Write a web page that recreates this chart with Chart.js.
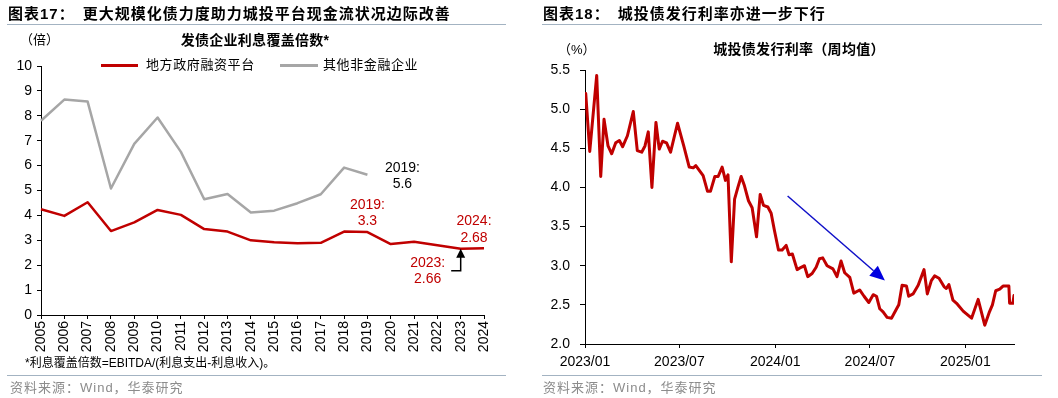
<!DOCTYPE html>
<html>
<head>
<meta charset="utf-8">
<script src="https://cdn.jsdelivr.net/npm/chart.js@4.4.1/dist/chart.umd.min.js"></script>
<style>
  html, body { margin: 0; padding: 0; background: #fff; }
  body {
    width: 1058px; height: 398px; position: relative; overflow: hidden;
    font-family: "Liberation Sans", Arial, "Noto Sans CJK SC", sans-serif; color: #000;
  }
  canvas { position: absolute; top: 0; }
  .abs { position: absolute; white-space: nowrap; }
  .title { font-size: 15px; font-weight: bold; letter-spacing: 1px; line-height: 18px; }
  .title span { margin-left: 8px; }
  .rule { position: absolute; height: 1px; background: #a3b3c2; }
  .unit { font-size: 13px; line-height: 16px; }
  .ctitle { font-size: 14px; font-weight: bold; line-height: 16px; transform: translateX(-50%); letter-spacing: 0.3px; }
  .legend { font-size: 13px; line-height: 16px; letter-spacing: 0.6px; }
  .swatch { position: absolute; height: 3px; }
  .note { font-size: 12px; line-height: 14px; }
  .src { font-size: 13px; line-height: 16px; color: #8c8c8c; letter-spacing: 1px; }
</style>
</head>
<body>
<canvas id="coverChart" width="530" height="398" style="left:0"></canvas>
<canvas id="rateChart" width="528" height="398" style="left:530px"></canvas>

<!-- 左图 -->
<div class="abs title" style="left:8px;top:5px">图表17：<span>更大规模化债力度助力城投平台现金流状况边际改善</span></div>
<div class="rule" style="left:7px;top:24px;width:499px"></div>
<div class="abs unit" style="left:20px;top:32px">（倍）</div>
<div class="abs ctitle" style="left:255px;top:32px">发债企业利息覆盖倍数*</div>
<div class="swatch" style="left:101px;top:64px;width:37px;background:#c00000"></div>
<div class="abs legend" style="left:146px;top:57px">地方政府融资平台</div>
<div class="swatch" style="left:280px;top:64px;width:38px;background:#a6a6a6"></div>
<div class="abs legend" style="left:323px;top:57px">其他非金融企业</div>
<div class="abs note" style="left:25px;top:356px">*利息覆盖倍数=EBITDA/(利息支出-利息收入)。</div>
<div class="rule" style="left:7px;top:375px;width:499px"></div>
<div class="abs src" style="left:10px;top:380px">资料来源：Wind，华泰研究</div>

<!-- 右图 -->
<div class="abs title" style="left:543px;top:5px">图表18：<span>城投债发行利率亦进一步下行</span></div>
<div class="rule" style="left:542px;top:24px;width:500px"></div>
<div class="abs unit" style="left:558px;top:42px">（%）</div>
<div class="abs ctitle" style="left:799px;top:41px">城投债发行利率（周均值）</div>
<div class="rule" style="left:542px;top:375px;width:500px"></div>
<div class="abs src" style="left:543px;top:380px">资料来源：Wind，华泰研究</div>

<script>
// 左图：发债企业利息覆盖倍数（倍）
const years = ['2005', '2006', '2007', '2008', '2009', '2010', '2011', '2012', '2013', '2014',
               '2015', '2016', '2017', '2018', '2019', '2020', '2021', '2022', '2023', '2024'];
const lgfvCover = [4.25, 3.98, 4.53, 3.37, 3.72, 4.22, 4.02, 3.45, 3.35, 3.0,
                   2.92, 2.88, 2.9, 3.35, 3.33, 2.85, 2.94, 2.8, 2.66, 2.68];
const otherCover = [7.8, 8.65, 8.57, 5.08, 6.87, 7.93, 6.55, 4.65, 4.86, 4.12,
                    4.19, 4.49, 4.85, 5.92, 5.63, null, null, null, null, null];

// 右图：城投债发行利率（周均值，%），横轴为自2023/01起的周数
const rateWeek = [0.2, 1.3, 3.2, 4.3, 5.2, 6.3, 7.3, 8.4, 9.4, 10.3, 11.6, 13.2, 14.3, 15.5, 16.4,
  17.3, 18.3, 19.4, 20.3, 21.2, 22.3, 23.4, 25.3, 27.0, 28.5, 29.6, 30.3, 32.3, 33.5, 34.3,
  35.5, 36.4, 37.5, 38.4, 39.1, 40.0, 40.9, 41.8, 42.7, 43.6, 44.7, 45.7, 46.9, 47.9, 48.8,
  50.0, 50.9, 51.8, 52.9, 53.9, 55.0, 55.8, 56.7, 58.0, 59.1, 60.0, 60.9, 62.1, 63.2, 64.1,
  65.0, 66.2, 67.8, 68.9, 70.0, 71.0, 72.4, 73.5, 75.1, 76.3, 77.6, 78.8, 79.7, 80.6, 81.5,
  82.6, 83.8, 85.2, 85.8, 86.7, 87.9, 88.5, 89.7, 91.1, 92.7, 93.6, 94.7, 95.6, 96.8, 98.2,
  98.8, 99.5, 100.6, 101.6, 103.4, 105.7, 107.5, 109.3, 110.5, 111.4, 112.3, 113.4, 114.3, 115.9,
  116.1, 117.0, 117.3];
const rateValue = [5.20, 4.46, 5.43, 4.14, 4.87, 4.53, 4.43, 4.57, 4.60, 4.52, 4.66, 4.97, 4.47, 4.45, 4.53,
  4.71, 4.00, 4.83, 4.49, 4.59, 4.57, 4.45, 4.82, 4.53, 4.26, 4.25, 4.28, 4.15, 3.95, 3.95,
  4.14, 4.14, 4.26, 4.09, 4.16, 3.05, 3.85, 4.00, 4.14, 4.02, 3.83, 3.74, 3.37, 3.91, 3.77,
  3.75, 3.67, 3.45, 3.20, 3.20, 3.26, 3.14, 3.15, 2.95, 2.98, 3.00, 2.86, 2.90, 2.98, 3.09,
  3.10, 3.00, 2.96, 2.86, 3.06, 2.91, 2.85, 2.65, 2.69, 2.61, 2.53, 2.63, 2.61, 2.45, 2.41,
  2.34, 2.33, 2.45, 2.50, 2.75, 2.74, 2.61, 2.64, 2.75, 2.95, 2.64, 2.81, 2.87, 2.84, 2.73,
  2.71, 2.76, 2.56, 2.52, 2.42, 2.33, 2.57, 2.24, 2.40, 2.50, 2.68, 2.70, 2.74, 2.74,
  2.52, 2.52, 2.62];
const rateTickWeek = [0, 25.8, 52, 77.9, 104];
const rateTickLabel = ['2023/01', '2023/07', '2024/01', '2024/07', '2025/01'];
const trendArrow = [[55.4, 3.89], [82.0, 2.81]];

const RED = '#c00000';
const GRAY = '#a6a6a6';
const tickFont = { family: '"Liberation Sans", Arial, sans-serif', size: 14 };

// 左图标注：[年份, 序列, 文本, 颜色, x偏移, y偏移]
const coverNotes = [
  ['2019', otherCover, ['2019:', '5.6'], '#000', 35, -7],
  ['2019', lgfvCover, ['2019:', '3.3'], RED, 0, -27],
  ['2024', lgfvCover, ['2024:', '2.68'], RED, -10, -27],
  ['2023', lgfvCover, ['2023:', '2.66'], RED, -33, 14],
];

const coverNotesPlugin = {
  id: 'coverNotes',
  afterDatasetsDraw(chart) {
    const { ctx, scales: { x, y } } = chart;
    ctx.save();
    ctx.font = '14px "Liberation Sans", Arial, sans-serif';
    ctx.textAlign = 'center';
    ctx.textBaseline = 'middle';
    coverNotes.forEach(([yr, series, lines, color, dx, dy]) => {
      const i = years.indexOf(yr);
      const px = x.getPixelForValue(i);
      const py = y.getPixelForValue(series[i]);
      ctx.fillStyle = color;
      lines.forEach((t, k) => ctx.fillText(t, px + dx, py + dy + k * 16.5));
    });
    // 2023 指示箭头
    const i23 = years.indexOf('2023');
    const ax = x.getPixelForValue(i23);
    const ay = y.getPixelForValue(lgfvCover[i23]);
    ctx.strokeStyle = '#000';
    ctx.fillStyle = '#000';
    ctx.lineWidth = 1.5;
    ctx.beginPath();
    ctx.moveTo(ax - 9.5, ay + 22);
    ctx.lineTo(ax, ay + 22);
    ctx.lineTo(ax, ay + 7);
    ctx.stroke();
    ctx.beginPath();
    ctx.moveTo(ax, ay);
    ctx.lineTo(ax - 4.5, ay + 9);
    ctx.lineTo(ax + 4.5, ay + 9);
    ctx.closePath();
    ctx.fill();
    ctx.restore();
  }
};

new Chart(document.getElementById('coverChart'), {
  type: 'line',
  data: {
    labels: years,
    datasets: [
      { label: '地方政府融资平台', data: lgfvCover, borderColor: RED, borderWidth: 2.5 },
      { label: '其他非金融企业', data: otherCover, borderColor: GRAY, borderWidth: 2.5 },
    ],
  },
  options: {
    responsive: false,
    devicePixelRatio: 1,
    animation: false,
    layout: { padding: { left: 0, top: 66, right: 46, bottom: 43 } },
    elements: {
      point: { radius: 0, hoverRadius: 0 },
      line: { tension: 0, borderJoinStyle: 'round', borderCapStyle: 'butt' },
    },
    scales: {
      x: {
        grid: { display: true, drawOnChartArea: false, drawTicks: true, tickLength: 4, color: '#000' },
        border: { display: true, color: '#000', width: 1 },
        ticks: { color: '#000', font: tickFont, minRotation: 90, maxRotation: 90, autoSkip: false, padding: 2 },
        afterFit(s) { s.height = 40; },
      },
      y: {
        min: 0,
        max: 10,
        grid: { display: true, drawOnChartArea: false, drawTicks: true, tickLength: 4, color: '#000' },
        border: { display: true, color: '#000', width: 1 },
        ticks: { stepSize: 1, color: '#000', font: tickFont, padding: 5 },
        afterFit(s) { s.width = 41; },
      },
    },
    plugins: { legend: { display: false }, tooltip: { enabled: false } },
  },
  plugins: [coverNotesPlugin],
});

const trendArrowPlugin = {
  id: 'trendArrow',
  afterDatasetsDraw(chart) {
    const { ctx, scales: { x, y } } = chart;
    const x0 = x.getPixelForValue(trendArrow[0][0]);
    const y0 = y.getPixelForValue(trendArrow[0][1]);
    const x1 = x.getPixelForValue(trendArrow[1][0]);
    const y1 = y.getPixelForValue(trendArrow[1][1]);
    const ang = Math.atan2(y1 - y0, x1 - x0);
    const headLen = 15, headHalf = 6.5;
    const bx = x1 - headLen * Math.cos(ang);
    const by = y1 - headLen * Math.sin(ang);
    ctx.save();
    ctx.strokeStyle = '#1010c8';
    ctx.fillStyle = '#0000e0';
    ctx.lineWidth = 1.5;
    ctx.beginPath();
    ctx.moveTo(x0, y0);
    ctx.lineTo(bx, by);
    ctx.stroke();
    ctx.beginPath();
    ctx.moveTo(x1, y1);
    ctx.lineTo(bx + headHalf * Math.sin(ang), by - headHalf * Math.cos(ang));
    ctx.lineTo(bx - headHalf * Math.sin(ang), by + headHalf * Math.cos(ang));
    ctx.closePath();
    ctx.fill();
    ctx.restore();
  }
};

new Chart(document.getElementById('rateChart'), {
  type: 'line',
  data: {
    datasets: [{
      label: '城投债发行利率（周均值）',
      data: rateWeek.map((w, i) => ({ x: w, y: rateValue[i] })),
      borderColor: RED,
      borderWidth: 3,
    }],
  },
  options: {
    responsive: false,
    devicePixelRatio: 1,
    animation: false,
    layout: { padding: { left: 0, top: 70, right: 44, bottom: 24 } },
    elements: {
      point: { radius: 0, hoverRadius: 0 },
      line: { tension: 0, borderJoinStyle: 'round', borderCapStyle: 'round' },
    },
    scales: {
      x: {
        type: 'linear',
        min: 0,
        max: 117.3,
        afterBuildTicks(s) { s.ticks = rateTickWeek.map(v => ({ value: v })); },
        grid: { display: true, drawOnChartArea: false, drawTicks: true, tickLength: 4, color: '#000' },
        border: { display: true, color: '#000', width: 1 },
        ticks: {
          color: '#000', font: tickFont, maxRotation: 0, autoSkip: false, padding: 6,
          callback: (v, i) => rateTickLabel[i],
        },
        afterFit(s) { s.height = 30; },
      },
      y: {
        min: 2,
        max: 5.5,
        grid: { display: true, drawOnChartArea: false, drawTicks: true, tickLength: 5, color: '#000' },
        border: { display: true, color: '#000', width: 1 },
        ticks: { stepSize: 0.5, color: '#000', font: tickFont, padding: 10, callback: v => v.toFixed(1) },
        afterFit(s) { s.width = 55; },
      },
    },
    plugins: { legend: { display: false }, tooltip: { enabled: false } },
  },
  plugins: [trendArrowPlugin],
});
</script>
</body>
</html>
